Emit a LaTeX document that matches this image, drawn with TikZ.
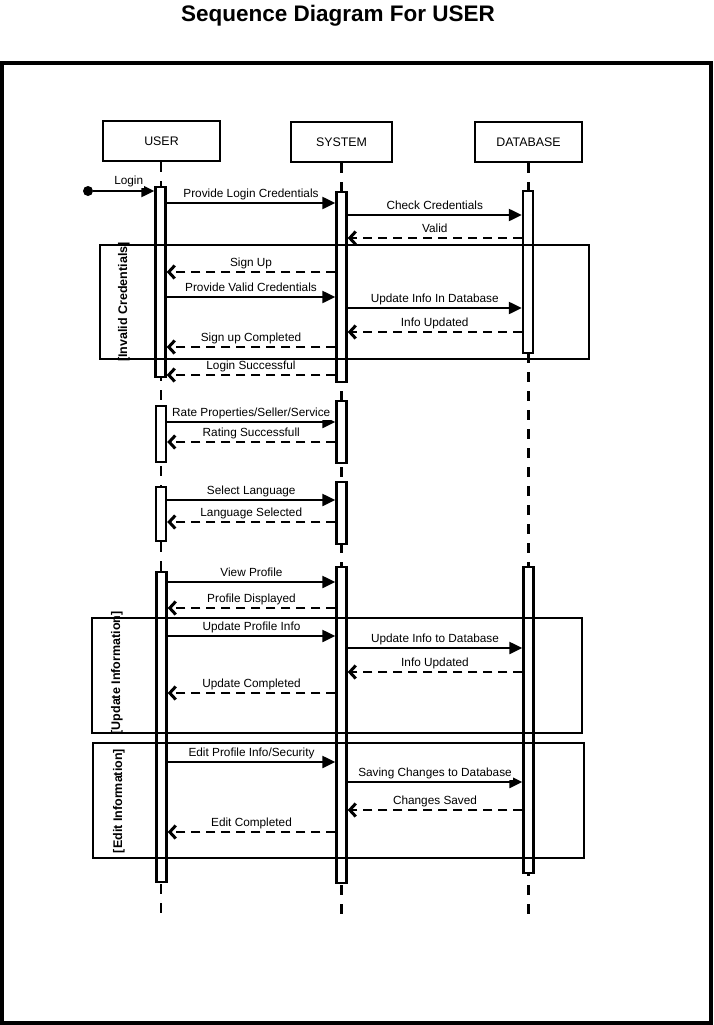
\documentclass[tikz,border=0pt]{standalone}
\usepackage{fontspec}
\setmainfont{Liberation Sans}
\usetikzlibrary{arrows.meta}
\begin{document}
\begin{tikzpicture}[x=1pt,y=-1pt,
  head/.style={draw,line width=2.4pt,fill=white,inner sep=0pt,font=\fontsize{12.4}{14}\selectfont},
  bar/.style={draw,line width=2.4pt,fill=white,inner sep=0pt,minimum width=10pt},
  lifeline/.style={line width=2.8pt,dash pattern=on 10pt off 9pt},
  frag/.style={draw,line width=2.6pt},
  msg/.style={line width=2.3pt,-{Triangle[length=13pt,width=12pt]}},
  ret/.style={line width=2.5pt,dash pattern=on 9pt off 6pt,-{Straight Barb[length=6pt,width=13pt,line width=3pt]}},
  lbl/.style={font=\fontsize{11.8}{13}\selectfont,fill=white,inner sep=1pt,anchor=base},
  flbl/.style={font=\bfseries\fontsize{12.5}{14}\selectfont,rotate=90,inner sep=0pt}
]
\useasboundingbox (0,0) rectangle (713,1025);
% title
\node[font=\bfseries\fontsize{22.5}{26}\selectfont,anchor=base,inner sep=0pt] (title) at (338,21.5) {Sequence Diagram For USER};
% outer frame
\node[draw,line width=3.5pt,minimum width=709pt,minimum height=960pt,inner sep=0pt] (outer) at (356.5,543) {};
% heads
\node[head,minimum width=117pt,minimum height=40pt] (user) at (161.5,141) {USER};
\node[head,minimum width=101pt,minimum height=40pt] (sys) at (341.5,142) {SYSTEM};
\node[head,minimum width=107pt,minimum height=40pt] (db) at (528.5,142) {DATABASE};
% lifeline ends
\coordinate (ue) at (161,922);
\coordinate (se) at (341.5,922);
\coordinate (de) at (528.5,922);
\draw[lifeline] (user.south -| ue) -- (ue);
\draw[lifeline] (sys.south) -- (se);
\draw[lifeline] (db.south) -- (de);
% activation bars
\node[bar,minimum height=190pt] (u1) at (160.5,282) {};
\node[bar,minimum height=190pt] (s1) at (341.5,287) {};
\node[bar,minimum height=162pt] (d1) at (528,272) {};
\node[bar,minimum height=56pt] (u2) at (161,434) {};
\node[bar,minimum height=62pt] (s2) at (341.5,432) {};
\node[bar,minimum height=54pt] (u3) at (161,514) {};
\node[bar,minimum height=62pt] (s3) at (341.5,513) {};
\node[bar,minimum height=310pt] (u4) at (161.5,727) {};
\node[bar,minimum height=316pt] (s4) at (341.5,725) {};
\node[bar,minimum height=306pt] (d2) at (528.5,720) {};
% fragments
\node[frag,minimum width=489pt,minimum height=114pt,inner sep=0pt] (f1) at (344.5,302) {};
\node[flbl] (f1l) at (124,302) {[Invalid Credentials]};
\node[frag,minimum width=490pt,minimum height=115pt,inner sep=0pt] (f2) at (337,675.5) {};
\node[flbl] (f2l) at (117,673) {[Update Information]};
\node[frag,minimum width=491pt,minimum height=115pt,inner sep=0pt] (f3) at (338.5,800.5) {};
\node[flbl] (f3l) at (119,801) {[Edit Information]};
% start point
\node[circle,fill=black,minimum size=10pt,inner sep=0pt] (start) at (88,191) {};
\draw[msg] (start) -- (u1.west |- start) node[lbl,midway,xshift=5pt,yshift=6.5pt] {Login};
% messages
\newcommand{\M}[5]{\draw[#1] (#2 |- 0,#4) -- (#3 |- 0,#4) node[lbl,midway,yshift=5.5pt] {#5};}
\M{msg}{u1.east}{s1.west}{203}{Provide Login Credentials}
\M{msg}{s1.east}{d1.west}{215}{Check Credentials}
\M{ret}{d1.west}{s1.east}{238}{Valid}
\M{ret}{s1.west}{u1.east}{272}{Sign Up}
\M{msg}{u1.east}{s1.west}{297}{Provide Valid Credentials}
\M{msg}{s1.east}{d1.west}{308}{Update Info In Database}
\M{ret}{d1.west}{s1.east}{332}{Info Updated}
\M{ret}{s1.west}{u1.east}{347}{Sign up Completed}
\M{ret}{s1.west}{u1.east}{375}{Login Successful}
\M{msg}{u2.east}{s2.west}{422}{Rate Properties/Seller/Service}
\M{ret}{s2.west}{u2.east}{442}{Rating Successfull}
\M{msg}{u3.east}{s3.west}{500}{Select Language}
\M{ret}{s3.west}{u3.east}{522}{Language Selected}
\M{msg}{u4.east}{s4.west}{582}{View Profile}
\M{ret}{s4.west}{u4.east}{608}{Profile Displayed}
\M{msg}{u4.east}{s4.west}{636}{Update Profile Info}
\M{msg}{s4.east}{d2.west}{648}{Update Info to Database}
\M{ret}{d2.west}{s4.east}{672}{Info Updated}
\M{ret}{s4.west}{u4.east}{693}{Update Completed}
\M{msg}{u4.east}{s4.west}{762}{Edit Profile Info/Security}
\M{msg}{s4.east}{d2.west}{782}{Saving Changes to Database}
\M{ret}{d2.west}{s4.east}{810}{Changes Saved}
\M{ret}{s4.west}{u4.east}{832}{Edit Completed}
\end{tikzpicture}
\end{document}
